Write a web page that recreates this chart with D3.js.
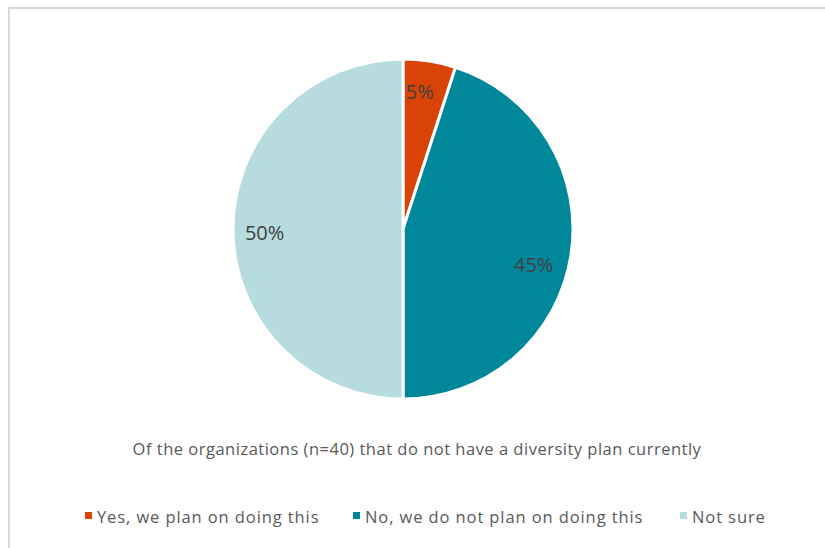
<!DOCTYPE html>
<html>
<head>
<meta charset="utf-8">
<script src="https://cdn.jsdelivr.net/npm/d3@7"></script>
<style>
  body { margin: 0; background: #fff; }
  text { font-family: "Open Sans", "Noto Sans", sans-serif; }
</style>
</head>
<body>
<svg id="canvas"></svg>
<script>
'use strict';

var CATEGORIES = ['Yes, we plan on doing this', 'No, we do not plan on doing this', 'Not sure'];
var VALUES = [5, 45, 50];
var LABELS = ['5%', '45%', '50%'];
var COLORS = ['#DA4307', '#00879A', '#B7DCE0'];
var CAPTION = 'Of the organizations (n=40) that do not have a diversity plan currently';

function RenderChart() {
  var width = 825, height = 548;
  var svg = d3.select('#canvas').attr('width', width).attr('height', height);

  svg.append('rect')
      .attr('x', 9).attr('y', 8)
      .attr('width', width).attr('height', height)
      .attr('fill', '#fff')
      .attr('stroke', '#d9d9d9')
      .attr('stroke-width', 2);

  var cx = 403, cy = 229, radius = 170;
  var pie = d3.pie().sort(null).value(function(d) { return d; });
  var arcs = pie(VALUES);
  var arc = d3.arc().innerRadius(0).outerRadius(radius);
  var labelArc = d3.arc().innerRadius(radius * 0.82).outerRadius(radius * 0.82);
  // excel "best fit" nudges, in px
  var labelNudge = [[-5, 0], [-7, 14], [1, 3]];

  var g = svg.append('g').attr('transform', 'translate(' + [cx, cy] + ')');
  g.selectAll('path')
      .data(arcs)
    .enter().append('path')
      .attr('d', arc)
      .attr('fill', function(d, i) { return COLORS[i]; })
      .attr('stroke', '#fff')
      .attr('stroke-width', 3)
      .attr('stroke-linejoin', 'round');

  g.selectAll('text.label')
      .data(arcs)
    .enter().append('text')
      .attr('class', 'label')
      .attr('transform', function(d, i) {
        var c = labelArc.centroid(d);
        return 'translate(' + [c[0] + labelNudge[i][0], c[1] + labelNudge[i][1]] + ')';
      })
      .attr('text-anchor', 'middle')
      .attr('dominant-baseline', 'central')
      .attr('font-size', 20)
      .attr('fill', '#404040')
      .text(function(d, i) { return LABELS[i]; });

  svg.append('text')
      .attr('x', 417).attr('y', 455)
      .attr('text-anchor', 'middle')
      .attr('font-size', 16.5)
      .attr('letter-spacing', 0.5)
      .attr('fill', '#595959')
      .text(CAPTION);

  var legendX = [85, 353, 680];
  var legend = svg.selectAll('g.legend')
      .data(CATEGORIES)
    .enter().append('g')
      .attr('class', 'legend')
      .attr('transform', function(d, i) { return 'translate(' + [legendX[i], 516] + ')'; });
  legend.append('rect')
      .attr('x', 0).attr('y', -4)
      .attr('width', 7).attr('height', 7)
      .attr('fill', function(d, i) { return COLORS[i]; });
  legend.append('text')
      .attr('x', 12).attr('y', 0)
      .attr('dominant-baseline', 'central')
      .attr('font-size', 16.5)
      .attr('letter-spacing', 0.9)
      .attr('fill', '#595959')
      .text(function(d) { return d; });
}

RenderChart();
</script>
</body>
</html>
